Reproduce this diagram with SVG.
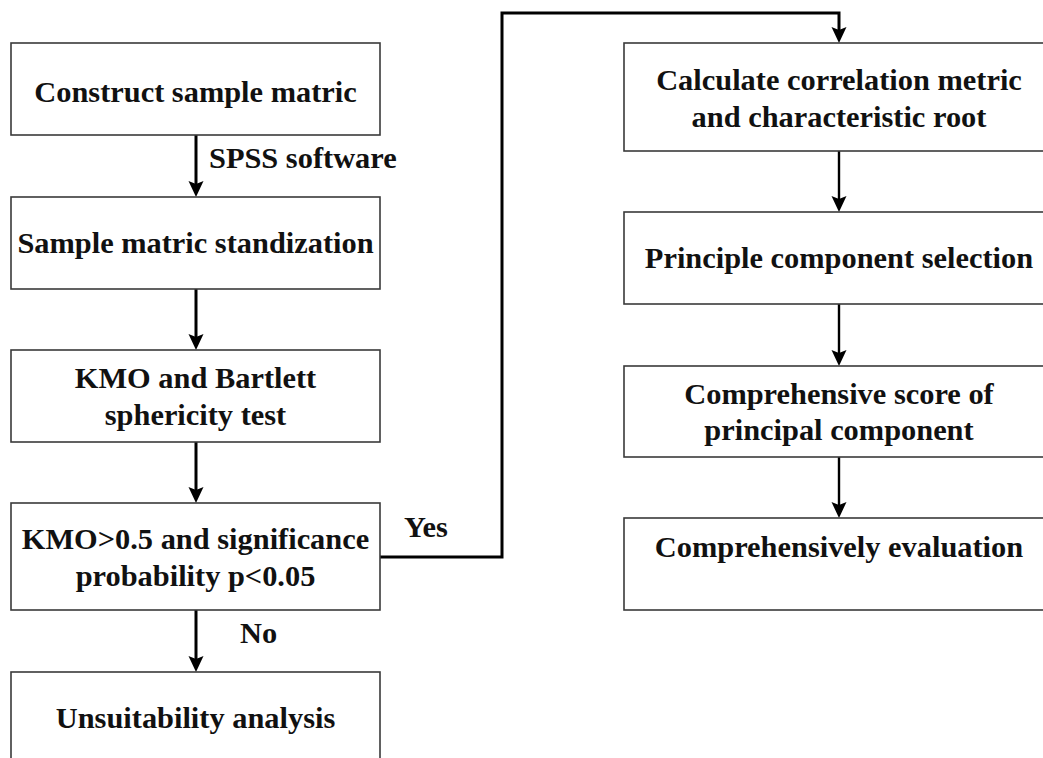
<svg xmlns="http://www.w3.org/2000/svg" width="1043" height="758" viewBox="0 0 1043 758">
  <style>
    .box { fill: #ffffff; stroke: #3a3a3a; stroke-width: 1.6; }
    .t { font-family: "Liberation Serif", "Times New Roman", serif; font-weight: bold; font-size: 30.4px; fill: #111111; }
    .c { text-anchor: middle; }
    .conn { fill: none; stroke: #000000; stroke-width: 3; stroke-linejoin: miter; }
    .conn2 { fill: none; stroke: #000000; stroke-width: 2.4; }
  </style>
  <defs>
    <marker id="ah" markerUnits="userSpaceOnUse" viewBox="0 0 16 16" markerWidth="16" markerHeight="16" refX="10" refY="8" orient="auto">
      <path d="M0,0.5 L16,8 L0,15.5 L3,8 Z" fill="#000000"/>
    </marker>
  </defs>
  <rect width="1043" height="758" fill="#ffffff"/>

  <g id="connectors">
    <path class="conn" d="M196,135 V191" marker-end="url(#ah)"/>
    <path class="conn" d="M196,289 V344" marker-end="url(#ah)"/>
    <path class="conn" d="M196,442 V497" marker-end="url(#ah)"/>
    <path class="conn" d="M196,610 V666" marker-end="url(#ah)"/>
    <path class="conn" d="M380,557 H502 V13 H839 V37" marker-end="url(#ah)"/>
    <path class="conn2" d="M839,151 V206" marker-end="url(#ah)"/>
    <path class="conn2" d="M839,304 V360" marker-end="url(#ah)"/>
    <path class="conn2" d="M839,457 V512" marker-end="url(#ah)"/>
    <text class="t" x="209" y="168">SPSS software</text>
    <text class="t" x="404" y="537">Yes</text>
    <text class="t" x="240" y="643">No</text>
  </g>

  <g id="n1">
    <rect class="box" x="11" y="43" width="369" height="92"/>
    <text class="t c" x="195.5" y="102">Construct sample matric</text>
  </g>
  <g id="n2">
    <rect class="box" x="11" y="197" width="369" height="92"/>
    <text class="t c" x="195.5" y="253">Sample matric standization</text>
  </g>
  <g id="n3">
    <rect class="box" x="11" y="350" width="369" height="92"/>
    <text class="t c" x="195.5" y="388">KMO and Bartlett</text>
    <text class="t c" x="195.5" y="425">sphericity test</text>
  </g>
  <g id="n4">
    <rect class="box" x="11" y="503" width="369" height="107"/>
    <text class="t c" x="195.5" y="549">KMO&gt;0.5 and significance</text>
    <text class="t c" x="195.5" y="586">probability p&lt;0.05</text>
  </g>
  <g id="n5">
    <rect class="box" x="11" y="672" width="369" height="100"/>
    <text class="t c" x="195.5" y="728">Unsuitability analysis</text>
  </g>

  <g id="n6">
    <rect class="box" x="624" y="43" width="430" height="108"/>
    <text class="t c" x="839" y="90">Calculate correlation metric</text>
    <text class="t c" x="839" y="127">and characteristic root</text>
  </g>
  <g id="n7">
    <rect class="box" x="624" y="212" width="430" height="92"/>
    <text class="t c" x="839" y="268">Principle component selection</text>
  </g>
  <g id="n8">
    <rect class="box" x="624" y="366" width="430" height="91"/>
    <text class="t c" x="839" y="404">Comprehensive score of</text>
    <text class="t c" x="839" y="440">principal component</text>
  </g>
  <g id="n9">
    <rect class="box" x="624" y="518" width="430" height="92"/>
    <text class="t c" x="839" y="557">Comprehensively evaluation</text>
  </g>
</svg>
